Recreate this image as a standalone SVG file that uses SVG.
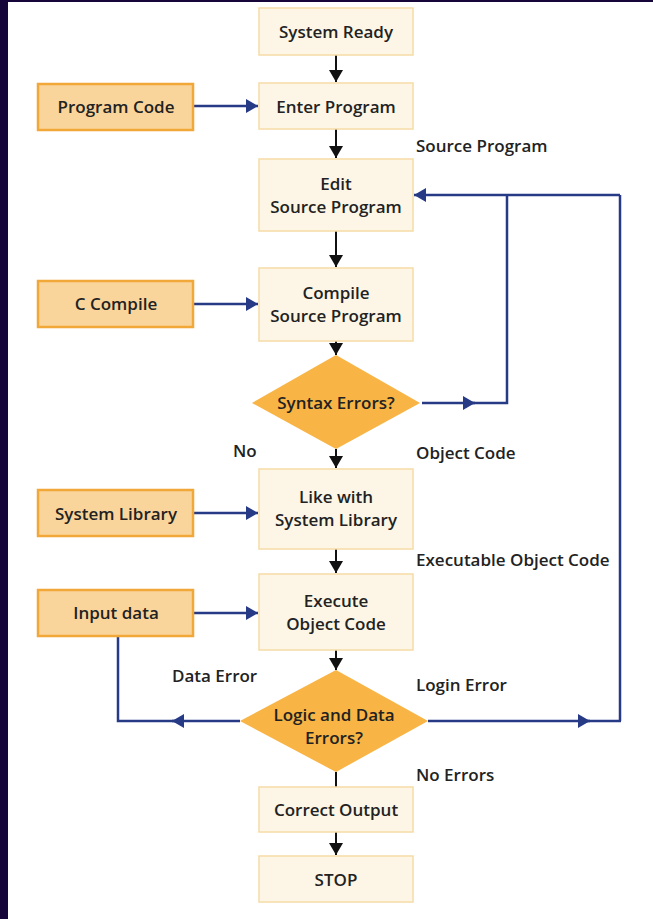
<svg xmlns="http://www.w3.org/2000/svg" width="653" height="919" viewBox="0 0 653 919">
<defs>
<style>
.box{fill:#fdf6e6;stroke:#f6dca6;stroke-width:1.5}
.inp{fill:#fad59b;stroke:#f2a838;stroke-width:2.5}
.dia{fill:#f8b444}
.t{font-family:"Open Sans","Noto Sans",sans-serif;font-weight:600;font-size:17px;fill:#222;text-anchor:middle;dominant-baseline:central}
.l{font-family:"Open Sans","Noto Sans",sans-serif;font-weight:600;font-size:17px;fill:#222}
.k{stroke:#111;stroke-width:2;fill:none}
.b{stroke:#263a86;stroke-width:2.5;fill:none}
</style>
<marker id="ak" markerWidth="14" markerHeight="14" refX="12" refY="7" orient="auto" markerUnits="userSpaceOnUse"><path d="M0,0 L12,7 L0,14 Z" fill="#111"/></marker>
<marker id="ab" markerWidth="14" markerHeight="14" refX="12" refY="7" orient="auto" markerUnits="userSpaceOnUse"><path d="M0,0 L12,7 L0,14 Z" fill="#263a86"/></marker>
</defs>
<rect x="0" y="0" width="653" height="919" fill="#ffffff"/>
<rect x="0" y="0" width="653" height="2" fill="#160538"/>
<rect x="0" y="0" width="8" height="919" fill="#160538"/>

<g id="connectors">
<line class="k" x1="336" y1="55" x2="336" y2="82" marker-end="url(#ak)"/>
<line class="k" x1="336" y1="129" x2="336" y2="158" marker-end="url(#ak)"/>
<line class="k" x1="336" y1="231" x2="336" y2="267" marker-end="url(#ak)"/>
<line class="k" x1="336" y1="341" x2="336" y2="355" marker-end="url(#ak)"/>
<line class="k" x1="336" y1="449" x2="336" y2="468" marker-end="url(#ak)"/>
<line class="k" x1="336" y1="549" x2="336" y2="573" marker-end="url(#ak)"/>
<line class="k" x1="336" y1="650" x2="336" y2="670" marker-end="url(#ak)"/>
<line class="k" x1="336" y1="772" x2="336" y2="787"/>
<line class="k" x1="336" y1="832" x2="336" y2="855" marker-end="url(#ak)"/>
<line class="b" x1="193" y1="106" x2="258" y2="106" marker-end="url(#ab)"/>
<line class="b" x1="193" y1="304" x2="258" y2="304" marker-end="url(#ab)"/>
<line class="b" x1="193" y1="513" x2="258" y2="513" marker-end="url(#ab)"/>
<line class="b" x1="193" y1="613" x2="258" y2="613" marker-end="url(#ab)"/>
<line class="b" x1="422" y1="403" x2="475" y2="403" marker-end="url(#ab)"/>
<polyline class="b" points="470,403 507,403 507,195"/>
<polyline class="b" points="620,195 620,721"/>
<line class="b" x1="620" y1="195" x2="414" y2="195" marker-end="url(#ab)"/>
<line class="b" x1="428" y1="721" x2="590" y2="721" marker-end="url(#ab)"/>
<line class="b" x1="585" y1="721" x2="621" y2="721"/>
<line class="b" x1="240" y1="721" x2="172" y2="721" marker-end="url(#ab)"/>
<polyline class="b" points="176,721 118,721 118,636"/>
</g>

<g id="n-system-ready"><rect class="box" x="259" y="8" width="154" height="47"/><text class="t" x="336" y="31">System Ready</text></g>
<g id="n-enter-program"><rect class="box" x="259" y="83" width="154" height="46"/><text class="t" x="336" y="106">Enter Program</text></g>
<g id="n-program-code"><rect class="inp" x="38" y="84" width="155" height="46"/><text class="t" x="116" y="106">Program Code</text></g>
<g id="n-edit"><rect class="box" x="259" y="159" width="154" height="72"/><text class="t" x="336" y="183">Edit</text><text class="t" x="336" y="206">Source Program</text></g>
<g id="n-compile"><rect class="box" x="259" y="268" width="154" height="73"/><text class="t" x="336" y="292">Compile</text><text class="t" x="336" y="315">Source Program</text></g>
<g id="n-c-compile"><rect class="inp" x="38" y="281" width="155" height="46"/><text class="t" x="116" y="303">C Compile</text></g>
<g id="n-syntax"><polygon class="dia" points="336,355 420,403 336,449 252,403"/><text class="t" x="336" y="402">Syntax Errors?</text></g>
<g id="n-link"><rect class="box" x="259" y="469" width="154" height="80"/><text class="t" x="336" y="496">Like with</text><text class="t" x="336" y="519">System Library</text></g>
<g id="n-system-library"><rect class="inp" x="38" y="490" width="155" height="46"/><text class="t" x="116" y="513">System Library</text></g>
<g id="n-execute"><rect class="box" x="259" y="574" width="154" height="76"/><text class="t" x="336" y="600">Execute</text><text class="t" x="336" y="623">Object Code</text></g>
<g id="n-input-data"><rect class="inp" x="38" y="590" width="155" height="46"/><text class="t" x="116" y="612">Input data</text></g>
<g id="n-logic"><polygon class="dia" points="336,670 428,721 336,772 240,721"/><text class="t" x="334" y="714">Logic and Data</text><text class="t" x="334" y="737">Errors?</text></g>
<g id="n-correct-output"><rect class="box" x="259" y="787" width="154" height="45"/><text class="t" x="336" y="809">Correct Output</text></g>
<g id="n-stop"><rect class="box" x="259" y="856" width="154" height="46"/><text class="t" x="336" y="879">STOP</text></g>

<g id="labels">
<text class="l" x="416" y="152">Source Program</text>
<text class="l" x="233" y="457">No</text>
<text class="l" x="416" y="459">Object Code</text>
<text class="l" x="416" y="566">Executable Object Code</text>
<text class="l" x="172" y="682">Data Error</text>
<text class="l" x="416" y="691">Login Error</text>
<text class="l" x="416" y="781">No Errors</text>
</g>
</svg>
